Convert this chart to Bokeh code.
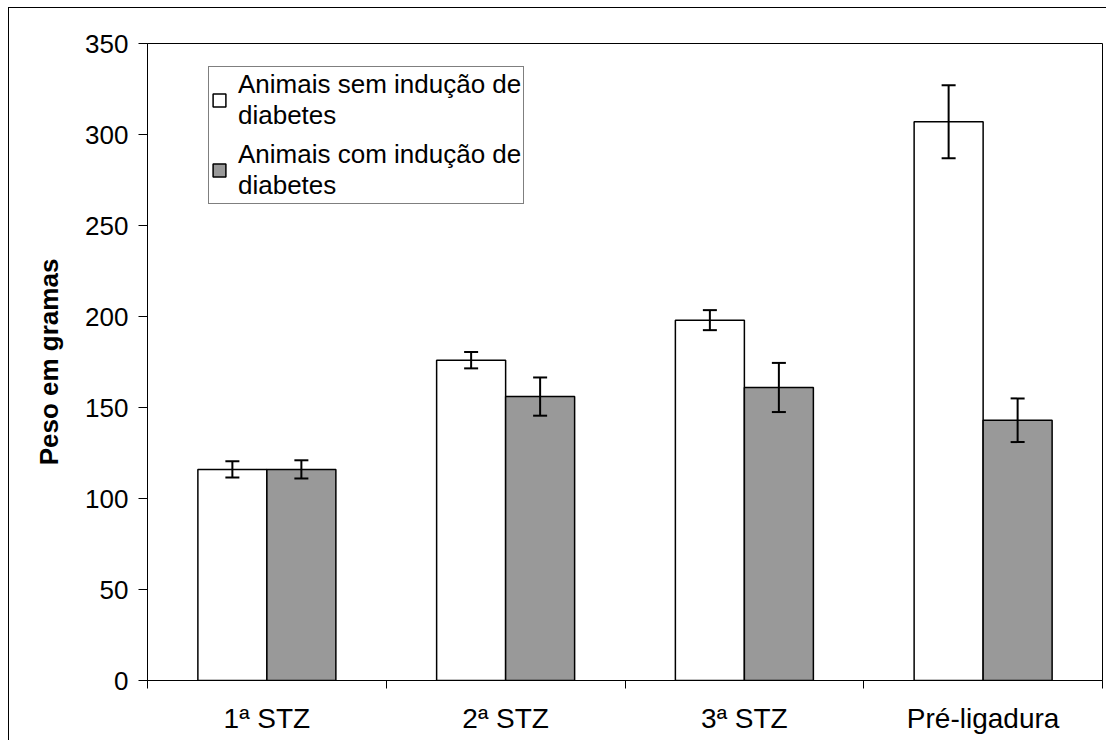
from bokeh.plotting import figure
from bokeh.models import (ColumnDataSource, Whisker, TeeHead, FixedTicker,
                          Legend, LegendItem, Range1d)
from bokeh.embed import file_html
from bokeh.resources import INLINE

# ---- data ----
categories = ["1ª STZ", "2ª STZ", "3ª STZ", "Pré-ligadura"]
sem_inducao = [116, 176, 198, 307]
sem_erro = [4.5, 4.5, 5.5, 20]
com_inducao = [116, 156, 161, 143]
com_erro = [5, 10.5, 13.5, 12]
y_ticks = [0, 50, 100, 150, 200, 250, 300, 350]
serie_labels = ["Animais sem indução de\ndiabetes", "Animais com indução de\ndiabetes"]
y_label = "Peso em gramas"

FONT = "Liberation Sans"
FS = "26px"
bar_w = 0.289
off = bar_w / 2

idx = list(range(len(categories)))
x_sem = [i + 0.5 - off for i in idx]
x_com = [i + 0.5 + off for i in idx]

src_sem = ColumnDataSource(dict(x=x_sem, top=sem_inducao,
                                upper=[v + e for v, e in zip(sem_inducao, sem_erro)],
                                lower=[v - e for v, e in zip(sem_inducao, sem_erro)]))
src_com = ColumnDataSource(dict(x=x_com, top=com_inducao,
                                upper=[v + e for v, e in zip(com_inducao, com_erro)],
                                lower=[v - e for v, e in zip(com_inducao, com_erro)]))

p = figure(width=1098, height=733, output_backend="svg", toolbar_location=None,
           x_range=Range1d(0, len(categories)), y_range=Range1d(y_ticks[0], y_ticks[-1]),
           min_border_left=138, min_border_right=5, min_border_top=35, min_border_bottom=61)
p.styles = {"border-top": "1px solid black", "border-left": "1px solid black",
            "margin-left": "8px", "margin-top": "7px"}

p.outline_line_color = "black"
p.outline_line_width = 1
p.xgrid.visible = False
p.ygrid.visible = False
p.background_fill_color = "white"
p.border_fill_color = "white"

r1 = p.vbar(x="x", top="top", width=bar_w, bottom=0, source=src_sem,
            fill_color="white", line_color="black", line_width=1.5)
r2 = p.vbar(x="x", top="top", width=bar_w, bottom=0, source=src_com,
            fill_color="#999999", line_color="black", line_width=1.5)

for src in (src_sem, src_com):
    w = Whisker(base="x", upper="upper", lower="lower", source=src,
                line_color="black", line_width=2, level="overlay",
                upper_head=TeeHead(size=14, line_color="black", line_width=2),
                lower_head=TeeHead(size=14, line_color="black", line_width=2))
    p.add_layout(w)

# x axis: labels at category centres, tick marks at category boundaries
xa = p.xaxis[0]
xa.ticker = FixedTicker(ticks=[i + 0.5 for i in idx], minor_ticks=list(range(len(categories) + 1)))
xa.major_label_overrides = {i + 0.5: c for i, c in zip(idx, categories)}
xa.major_tick_out = 0
xa.major_tick_in = 0
xa.minor_tick_out = 8
xa.minor_tick_in = 0
xa.minor_tick_line_color = "black"
xa.axis_line_color = "black"
xa.major_label_text_font = FONT
xa.major_label_text_font_size = "28px"
xa.major_label_text_color = "black"
xa.major_label_standoff = 14

ya = p.yaxis[0]
ya.ticker = FixedTicker(ticks=y_ticks, minor_ticks=[])
ya.major_tick_out = 9
ya.major_tick_in = 0
ya.major_tick_line_color = "black"
ya.axis_line_color = "black"
ya.major_label_text_font = FONT
ya.major_label_text_font_size = FS
ya.major_label_text_color = "black"
ya.major_label_standoff = 10
ya.axis_label = y_label
ya.axis_label_text_font = FONT
ya.axis_label_text_font_size = FS
ya.axis_label_text_font_style = "bold"
ya.axis_label_text_color = "black"
ya.axis_label_standoff = 18

legend = Legend(items=[LegendItem(label=serie_labels[0], renderers=[r1]),
                       LegendItem(label=serie_labels[1], renderers=[r2])],
                location=(61, 476), orientation="vertical",
                border_line_color="black", border_line_width=1,
                background_fill_color="white", background_fill_alpha=1,
                label_text_font=FONT, label_text_font_size=FS, label_text_color="black",
                label_text_line_height=1.1,
                glyph_width=16, glyph_height=16, padding=2, spacing=8, margin=0,
                label_standoff=11, label_height=28)
p.add_layout(legend)

open("out.html", "w").write(file_html(p, INLINE))
